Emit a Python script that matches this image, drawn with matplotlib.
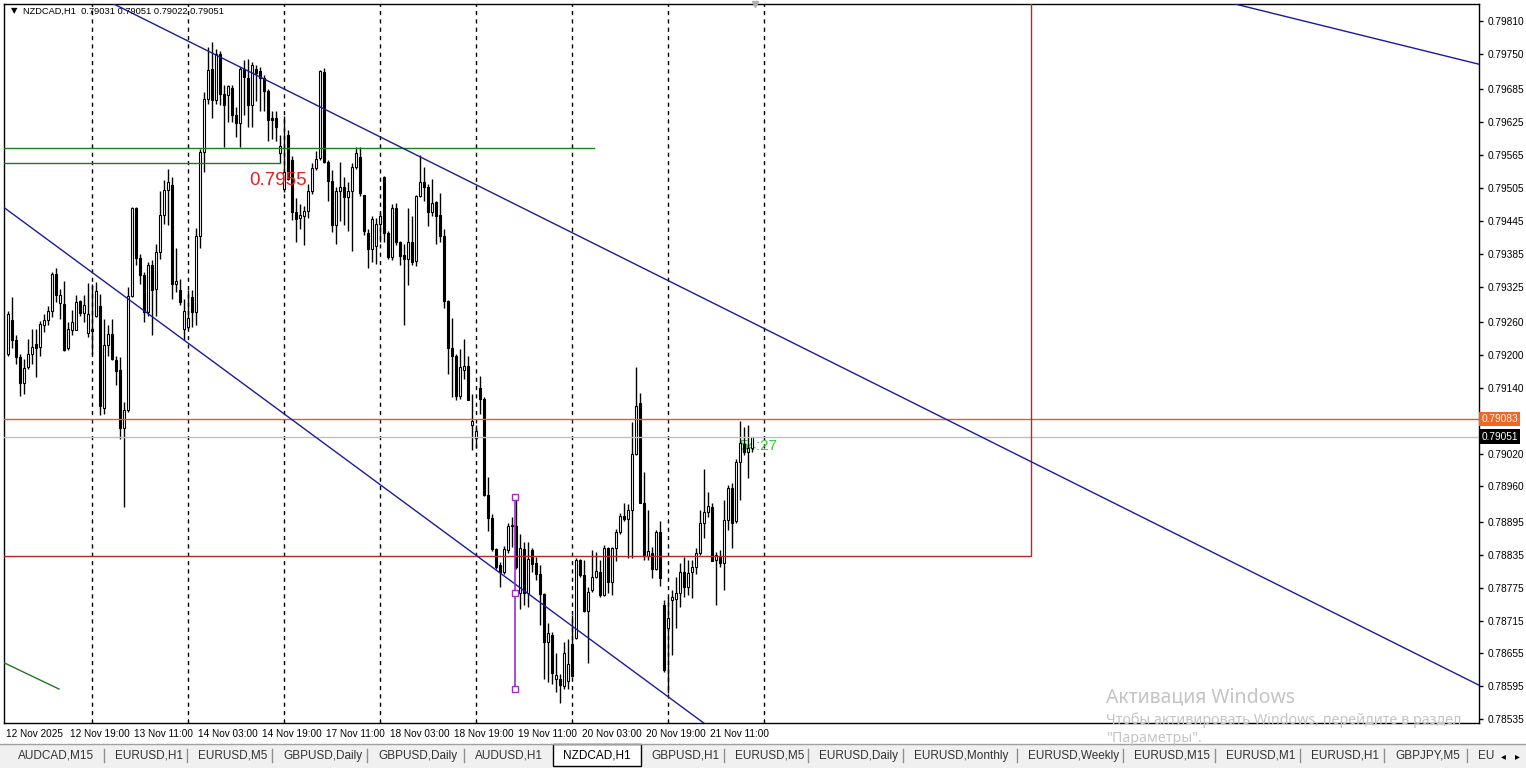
import numpy as np
import matplotlib
matplotlib.use("Agg")
import matplotlib.pyplot as plt
import matplotlib.patches as mpatches
import matplotlib.transforms as mtransforms

plt.rcParams['font.family'] = ['Liberation Sans', 'DejaVu Sans']

# ---- data: NZDCAD H1 candles (bar 0 = 12 Nov 03:00) ----
opens = [
    0.79202, 0.79264, 0.79227, 0.79196, 0.79148, 0.79178, 0.79201, 0.79221, 0.79214, 0.79255,
    0.79264, 0.79281, 0.79348, 0.79295, 0.79294, 0.79212, 0.79245, 0.79245, 0.79299, 0.79277,
    0.79240, 0.79248, 0.79271, 0.79289, 0.79103, 0.79219, 0.79239, 0.79190, 0.79172, 0.79067,
    0.79099, 0.79308, 0.79468, 0.79377, 0.79347, 0.79279, 0.79365, 0.79321, 0.79389, 0.79455,
    0.79501, 0.79510, 0.79330, 0.79318, 0.79248, 0.79251, 0.79306, 0.79279, 0.79417, 0.79570,
    0.79667, 0.79723, 0.79665, 0.79750, 0.79677, 0.79674, 0.79687, 0.79639, 0.79624, 0.79723,
    0.79705, 0.79656, 0.79723, 0.79719, 0.79705, 0.79683, 0.79633, 0.79632, 0.79568, 0.79504,
    0.79602, 0.79556, 0.79462, 0.79450, 0.79453, 0.79463, 0.79499, 0.79541, 0.79559, 0.79717,
    0.79553, 0.79518, 0.79438, 0.79499, 0.79507, 0.79489, 0.79499, 0.79543, 0.79562, 0.79492,
    0.79423, 0.79394, 0.79399, 0.79440, 0.79525, 0.79423, 0.79379, 0.79468, 0.79407, 0.79383,
    0.79376, 0.79407, 0.79372, 0.79490, 0.79516, 0.79507, 0.79461, 0.79480, 0.79455, 0.79417,
    0.79299, 0.79213, 0.79199, 0.79126, 0.79172, 0.79180, 0.79073, 0.79049, 0.79139, 0.79120,
    0.78945, 0.78903, 0.78845, 0.78816, 0.78804, 0.78844, 0.78887, 0.78888, 0.78765, 0.78845,
    0.78766, 0.78844, 0.78821, 0.78801, 0.78763, 0.78676, 0.78689, 0.78609, 0.78609, 0.78595,
    0.78605, 0.78672, 0.78684, 0.78826, 0.78798, 0.78733, 0.78770, 0.78795, 0.78804, 0.78762,
    0.78847, 0.78786, 0.78847, 0.78877, 0.78906, 0.78900, 0.78917, 0.79020, 0.79113, 0.78930,
    0.78833, 0.78839, 0.78810, 0.78876, 0.78743, 0.78701, 0.78753, 0.78754, 0.78766, 0.78804,
    0.78776, 0.78804, 0.78812, 0.78838, 0.78893, 0.78914, 0.78922, 0.78826, 0.78832, 0.78820,
    0.78899, 0.78957, 0.78896, 0.79005, 0.79038, 0.79022, 0.79031,
]
highs = [
    0.79280, 0.79306, 0.79236, 0.79202, 0.79193, 0.79229, 0.79248, 0.79248, 0.79263, 0.79275,
    0.79289, 0.79352, 0.79358, 0.79321, 0.79336, 0.79260, 0.79282, 0.79310, 0.79300, 0.79310,
    0.79332, 0.79330, 0.79333, 0.79312, 0.79266, 0.79254, 0.79266, 0.79199, 0.79196, 0.79114,
    0.79324, 0.79470, 0.79470, 0.79385, 0.79352, 0.79370, 0.79373, 0.79403, 0.79499, 0.79519,
    0.79539, 0.79525, 0.79395, 0.79339, 0.79303, 0.79318, 0.79318, 0.79432, 0.79577, 0.79680,
    0.79763, 0.79772, 0.79758, 0.79755, 0.79693, 0.79693, 0.79693, 0.79653, 0.79726, 0.79738,
    0.79741, 0.79735, 0.79730, 0.79726, 0.79711, 0.79685, 0.79645, 0.79645, 0.79601, 0.79636,
    0.79610, 0.79563, 0.79487, 0.79475, 0.79472, 0.79513, 0.79550, 0.79573, 0.79721, 0.79725,
    0.79556, 0.79538, 0.79507, 0.79553, 0.79525, 0.79516, 0.79550, 0.79579, 0.79579, 0.79493,
    0.79430, 0.79453, 0.79450, 0.79462, 0.79526, 0.79427, 0.79475, 0.79478, 0.79409, 0.79403,
    0.79469, 0.79453, 0.79493, 0.79566, 0.79544, 0.79513, 0.79522, 0.79481, 0.79496, 0.79430,
    0.79300, 0.79267, 0.79202, 0.79211, 0.79230, 0.79198, 0.79129, 0.79072, 0.79161, 0.79123,
    0.78978, 0.78909, 0.78847, 0.78822, 0.78852, 0.78893, 0.78905, 0.78935, 0.78874, 0.78859,
    0.78859, 0.78847, 0.78832, 0.78816, 0.78765, 0.78710, 0.78695, 0.78655, 0.78618, 0.78676,
    0.78682, 0.78725, 0.78829, 0.78827, 0.78826, 0.78777, 0.78844, 0.78841, 0.78826, 0.78853,
    0.78850, 0.78850, 0.78883, 0.78911, 0.78929, 0.78928, 0.79078, 0.79178, 0.79130, 0.78987,
    0.78917, 0.78850, 0.78880, 0.78896, 0.78752, 0.78759, 0.78771, 0.78795, 0.78820, 0.78832,
    0.78826, 0.78826, 0.78847, 0.78917, 0.78991, 0.78949, 0.78929, 0.78841, 0.78844, 0.78935,
    0.78963, 0.78966, 0.79010, 0.79080, 0.79069, 0.79072, 0.79051,
]
lows = [
    0.79199, 0.79212, 0.79184, 0.79126, 0.79129, 0.79175, 0.79184, 0.79160, 0.79199, 0.79242,
    0.79254, 0.79269, 0.79297, 0.79266, 0.79208, 0.79209, 0.79236, 0.79245, 0.79272, 0.79260,
    0.79233, 0.79202, 0.79269, 0.79091, 0.79093, 0.79199, 0.79190, 0.79145, 0.79047, 0.78922,
    0.79096, 0.79306, 0.79364, 0.79330, 0.79260, 0.79272, 0.79236, 0.79272, 0.79376, 0.79440,
    0.79437, 0.79303, 0.79315, 0.79291, 0.79227, 0.79248, 0.79251, 0.79254, 0.79396, 0.79534,
    0.79659, 0.79632, 0.79659, 0.79656, 0.79580, 0.79626, 0.79626, 0.79599, 0.79580, 0.79638,
    0.79617, 0.79617, 0.79664, 0.79645, 0.79645, 0.79591, 0.79594, 0.79591, 0.79550, 0.79498,
    0.79519, 0.79447, 0.79406, 0.79431, 0.79400, 0.79450, 0.79494, 0.79538, 0.79556, 0.79550,
    0.79481, 0.79424, 0.79403, 0.79444, 0.79438, 0.79427, 0.79390, 0.79539, 0.79490, 0.79420,
    0.79359, 0.79369, 0.79366, 0.79406, 0.79406, 0.79375, 0.79374, 0.79400, 0.79365, 0.79254,
    0.79327, 0.79365, 0.79363, 0.79489, 0.79481, 0.79435, 0.79453, 0.79403, 0.79406, 0.79286,
    0.79165, 0.79123, 0.79117, 0.79120, 0.79156, 0.79117, 0.79026, 0.79030, 0.79093, 0.78942,
    0.78878, 0.78842, 0.78810, 0.78776, 0.78801, 0.78838, 0.78850, 0.78810, 0.78737, 0.78743,
    0.78740, 0.78804, 0.78789, 0.78707, 0.78609, 0.78603, 0.78600, 0.78585, 0.78564, 0.78591,
    0.78591, 0.78612, 0.78682, 0.78795, 0.78731, 0.78637, 0.78768, 0.78792, 0.78759, 0.78760,
    0.78765, 0.78762, 0.78823, 0.78874, 0.78896, 0.78829, 0.78829, 0.79017, 0.78929, 0.78826,
    0.78826, 0.78792, 0.78807, 0.78778, 0.78622, 0.78582, 0.78652, 0.78701, 0.78740, 0.78759,
    0.78762, 0.78756, 0.78801, 0.78835, 0.78865, 0.78905, 0.78823, 0.78743, 0.78813, 0.78771,
    0.78880, 0.78847, 0.78893, 0.78935, 0.79017, 0.78975, 0.79022,
]
closes = [
    0.79275, 0.79227, 0.79196, 0.79148, 0.79177, 0.79201, 0.79215, 0.79212, 0.79257, 0.79264,
    0.79281, 0.79348, 0.79310, 0.79309, 0.79210, 0.79248, 0.79260, 0.79297, 0.79277, 0.79291,
    0.79275, 0.79244, 0.79316, 0.79107, 0.79219, 0.79239, 0.79192, 0.79170, 0.79067, 0.79099,
    0.79308, 0.79468, 0.79377, 0.79346, 0.79279, 0.79365, 0.79318, 0.79389, 0.79456, 0.79501,
    0.79516, 0.79330, 0.79336, 0.79297, 0.79281, 0.79268, 0.79279, 0.79417, 0.79570, 0.79667,
    0.79720, 0.79665, 0.79750, 0.79677, 0.79656, 0.79691, 0.79639, 0.79623, 0.79722, 0.79708,
    0.79656, 0.79729, 0.79715, 0.79705, 0.79683, 0.79629, 0.79629, 0.79616, 0.79582, 0.79535,
    0.79522, 0.79462, 0.79449, 0.79456, 0.79463, 0.79499, 0.79541, 0.79558, 0.79719, 0.79553,
    0.79518, 0.79438, 0.79499, 0.79507, 0.79489, 0.79499, 0.79543, 0.79568, 0.79495, 0.79426,
    0.79394, 0.79449, 0.79440, 0.79454, 0.79423, 0.79379, 0.79468, 0.79407, 0.79381, 0.79376,
    0.79407, 0.79370, 0.79490, 0.79516, 0.79507, 0.79461, 0.79478, 0.79453, 0.79417, 0.79299,
    0.79213, 0.79198, 0.79126, 0.79178, 0.79180, 0.79118, 0.79080, 0.79061, 0.79120, 0.78945,
    0.78903, 0.78846, 0.78813, 0.78804, 0.78846, 0.78887, 0.78890, 0.78813, 0.78847, 0.78766,
    0.78827, 0.78818, 0.78801, 0.78763, 0.78676, 0.78692, 0.78620, 0.78615, 0.78597, 0.78656,
    0.78636, 0.78614, 0.78826, 0.78798, 0.78733, 0.78768, 0.78795, 0.78806, 0.78762, 0.78847,
    0.78786, 0.78847, 0.78876, 0.78906, 0.78900, 0.78917, 0.79020, 0.79107, 0.78930, 0.78833,
    0.78843, 0.78810, 0.78876, 0.78792, 0.78625, 0.78720, 0.78759, 0.78766, 0.78804, 0.78777,
    0.78802, 0.78812, 0.78838, 0.78893, 0.78914, 0.78924, 0.78824, 0.78835, 0.78820, 0.78899,
    0.78957, 0.78894, 0.79005, 0.79039, 0.79022, 0.79031, 0.79051,
]

# time axis labels (bar index -> label) and day separators
time_label_bars = [0, 16, 32, 48, 64, 80, 96, 112, 128, 144, 160, 176]
time_labels = ['12 Nov 2025', '12 Nov 19:00', '13 Nov 11:00', '14 Nov 03:00', '14 Nov 19:00',
               '17 Nov 11:00', '18 Nov 03:00', '18 Nov 19:00', '19 Nov 11:00', '20 Nov 03:00',
               '20 Nov 19:00', '21 Nov 11:00']
day_separator_bars = [21, 45, 69, 93, 117, 141, 165, 189]

price_ticks = [0.79810, 0.79750, 0.79685, 0.79625, 0.79565, 0.79505, 0.79445, 0.79385,
               0.79325, 0.79260, 0.79200, 0.79140, 0.79020, 0.78960, 0.78895, 0.78835,
               0.78775, 0.78715, 0.78655, 0.78595, 0.78535]

# drawn objects (bar index, price)
trend_upper = [(103, 0.79562), (300, 0.78844)]
trend_lower = [(-0.75, 0.79468), (173, 0.78533)]
trend_top_right = [(306.75, 0.79841), (367.75, 0.79731)]
trend_green = [(-3, 0.78645), (12.75, 0.78590)]
green_level_hi = (0.79578, 146.5)
green_level_lo = (0.79550, 68)
level_label = '0.7955'
red_box = (-30, 255.75, 0.78833, 0.79950)
orange_level = 0.79083
bid_price = 0.79051
purple_bar = 126.75
purple_prices = [0.78591, 0.78765, 0.78940]
timer_text = '54:27'

tabs = ['AUDCAD,M15', 'EURUSD,H1', 'EURUSD,M5', 'GBPUSD,Daily', 'GBPUSD,Daily', 'AUDUSD,H1',
        'NZDCAD,H1', 'GBPUSD,H1', 'EURUSD,M5', 'EURUSD,Daily', 'EURUSD,Monthly', 'EURUSD,Weekly',
        'EURUSD,M15', 'EURUSD,M1', 'EURUSD,H1', 'GBPJPY,M5', 'EU']
active_tab = 6

# ---- layout (pixels) ----
W, H = 1526, 768
tab_x = [18, 115, 198, 283, 378, 475, 563, 651, 735, 819, 914, 1028, 1134, 1226, 1311, 1395, 1478]

fig = plt.figure(figsize=(W / 100, H / 100), dpi=100)
fig.patch.set_facecolor('white')
ax = fig.add_axes([4 / W, 1 - 723 / H, (1479 - 4) / W, (723 - 4) / H])
ax.set_xlim(-1, 367.75)
ax.set_ylim(0.78528, 0.79841)
ax.set_facecolor('white')

o = np.array(opens); h = np.array(highs); l = np.array(lows); c = np.array(closes)
idx = np.arange(len(o))
bull = c >= o

# day separators
for b in day_separator_bars:
    ax.axvline(b, color='black', lw=1, ls=(0, (3, 3)), zorder=1)

# timer text sits under the candles
ax.text(182.75, 0.79034, timer_text, color='#33cc33', fontsize=11, va='center', ha='left', zorder=1.5)

# candles
ax.vlines(idx, l, h, color='black', lw=1, zorder=2)
body_lo = np.minimum(o, c)
body_h = np.maximum(np.abs(c - o), 0.000012)
ax.bar(idx, body_h, bottom=body_lo, width=0.68,
       color=np.where(bull, 'white', 'black'), edgecolor='black', lw=0.8, zorder=3)

# horizontal levels
ax.axhline(orange_level, color='#e0601e', lw=1, zorder=4)
ax.axhline(bid_price, color='#c0c0c0', lw=1, zorder=4)
ax.plot([-5, green_level_hi[1]], [green_level_hi[0]] * 2, color='#1e7a1e', lw=1, zorder=4)
ax.plot([-5, green_level_lo[1]], [green_level_lo[0]] * 2, color='#1e7a1e', lw=1, zorder=4)
ax.text(60.25, 0.79518, level_label, color='#e8201f', fontsize=13.5, va='center', ha='left', zorder=5)

# red rectangle
x0, x1, y0, y1 = red_box
ax.add_patch(mpatches.Rectangle((x0, y0), x1 - x0, y1 - y0, fill=False,
                                edgecolor='#b8282a', lw=1, zorder=4))

# trend lines
for pts in (trend_upper, trend_lower, trend_top_right):
    ax.axline(pts[0], pts[1], color='#1a1aa0', lw=1, zorder=4)
ax.plot([p[0] for p in trend_green], [p[1] for p in trend_green], color='#1e7a1e', lw=1, zorder=4)

# purple vertical segment with handles
ax.plot([purple_bar] * 2, [purple_prices[0], purple_prices[-1]], color='#9b30c8', lw=1.2, zorder=5)
ax.plot([purple_bar] * 3, purple_prices, ls='none', marker='s', ms=4.5, mfc='white',
        mec='#9b30c8', mew=1, zorder=6)

# chart-shift marker
ax.plot([186.75], [0.79841], marker='v', ms=5, color='#b0b0b0', clip_on=False, zorder=6)

# axes cosmetics
for s in ax.spines.values():
    s.set_color('black'); s.set_linewidth(1)
ax.yaxis.tick_right()
ax.set_yticks(price_ticks)
ax.set_yticklabels([f'{v:.5f}' for v in price_ticks])
ax.tick_params(axis='y', direction='out', length=3, width=1, pad=3, labelsize=7.3, colors='black')
ax.set_xticks([])

tr = mtransforms.blended_transform_factory(ax.transData, ax.transAxes)
for b, lab in zip(time_label_bars, time_labels):
    ax.text(b - 0.5, -0.0085, lab, transform=tr, ha='left', va='top', fontsize=7.2, clip_on=False)

# price boxes on right scale
tr_y = mtransforms.blended_transform_factory(ax.transAxes, ax.transData)
ax.text(1.0015, orange_level, f'{orange_level:.5f}', transform=tr_y, ha='left', va='center',
        fontsize=7.3, color='white', clip_on=False,
        bbox=dict(boxstyle='square,pad=0.22', fc='#f26522', ec='none'))
ax.text(1.0015, bid_price, f'{bid_price:.5f}', transform=tr_y, ha='left', va='center',
        fontsize=7.3, color='white', clip_on=False,
        bbox=dict(boxstyle='square,pad=0.22', fc='black', ec='none'))

# header
fig.text(11 / W, 1 - 11 / H, '\u25bc', fontsize=6, va='center', ha='left', family=['DejaVu Sans'])
fig.text(23 / W, 1 - 11 / H, 'NZDCAD,H1  0.79031 0.79051 0.79022 0.79051', fontsize=6.7,
         va='center', ha='left')

# ---- window chrome: tab bar + watermark, in pixel coords ----
ov = fig.add_axes([0, 0, 1, 1], zorder=10)
ov.set_xlim(0, W); ov.set_ylim(H, 0); ov.axis('off'); ov.patch.set_alpha(0)
ov.add_patch(mpatches.Rectangle((0, 744), W, 24, fc='#f0f0f0', ec='none'))
ov.plot([0, W], [744, 744], color='#a0a0a0', lw=1)
for k, (name, x) in enumerate(zip(tabs, tab_x)):
    if k == active_tab:
        ov.add_patch(mpatches.Rectangle((553, 744), 88, 22, fc='white', ec='black', lw=1))
    ov.text(x, 756, name, fontsize=8.5, va='center', ha='left',
            color='black' if k == active_tab else '#333333')
    if 0 < k and k != active_tab and k != active_tab + 1:
        ov.plot([x - 11, x - 11], [749, 762], color='#909090', lw=1)
ov.text(1503, 756, '\u25c2', fontsize=7, va='center', ha='center', family=['DejaVu Sans'])
ov.text(1517, 756, '\u25b8', fontsize=7, va='center', ha='center', family=['DejaVu Sans'])

wm = ['Noto Sans', 'DejaVu Sans']
ov.text(1106, 697, 'Активация Windows', fontsize=14, color='#c4c4c4', va='center', ha='left', family=wm)
ov.text(1106, 720, 'Чтобы активировать Windows, перейдите в раздел', fontsize=10.3, color='#c4c4c4',
        va='center', ha='left', family=wm)
ov.text(1106, 738, '"Параметры".', fontsize=10.3, color='#c4c4c4', va='center', ha='left', family=wm)

fig.savefig('out.png', dpi=100)
